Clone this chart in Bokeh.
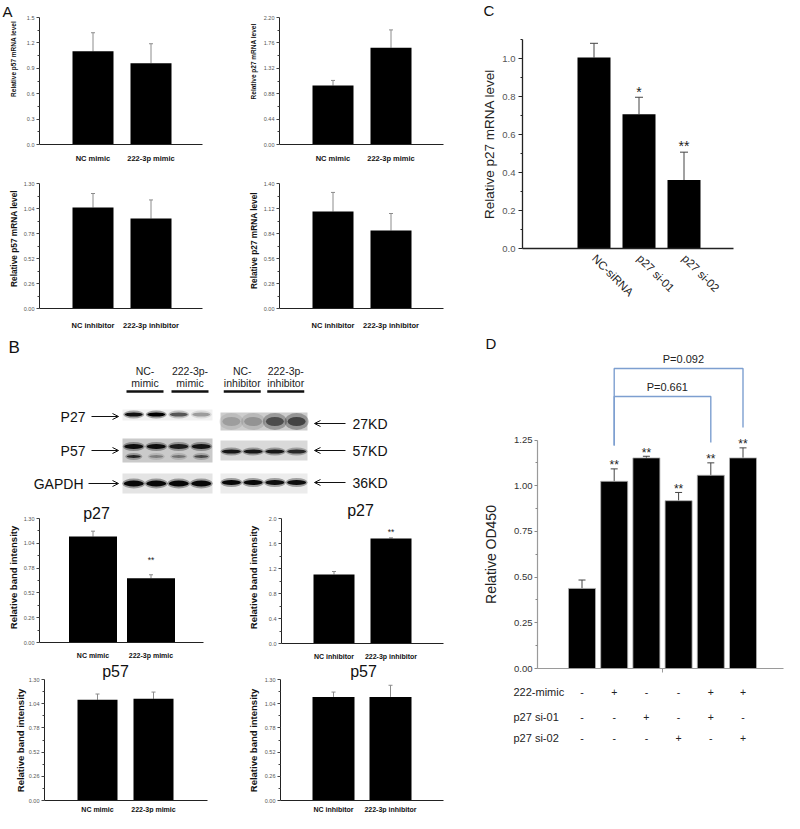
import math
from bokeh.plotting import figure
from bokeh.models import (Range1d, FixedTicker, NumeralTickFormatter, Whisker,
                          TeeHead, ColumnDataSource, Arrow, OpenHead)
from bokeh.layouts import row, column
from bokeh.core.properties import value
from bokeh.embed import file_html
from bokeh.resources import INLINE

FONT = "Liberation Sans"

# ---------------- data ----------------
A_mimic_cats = ["NC mimic", "222-3p mimic"]
A_inhib_cats = ["NC inhibitor", "222-3p inhibitor"]

A1_vals = [1.10, 0.96]
A1_errs = [0.22, 0.23]
A1_ticks = [0.0, 0.3, 0.6, 0.9, 1.2, 1.5]

A2_vals = [1.02, 1.675]
A2_errs = [0.09, 0.31]
A2_ticks = [0.0, 0.44, 0.88, 1.32, 1.76, 2.20]

A3_vals = [1.05, 0.935]
A3_errs = [0.146, 0.194]
A3_ticks = [0.0, 0.26, 0.52, 0.78, 1.04, 1.30]

A4_vals = [1.086, 0.874]
A4_errs = [0.214, 0.19]
A4_ticks = [0.0, 0.28, 0.56, 0.84, 1.12, 1.40]

B1_vals = [1.11, 0.674]
B1_errs = [0.057, 0.036]
B2_vals = [1.104, 1.68]
B2_errs = [0.048, 0.011]
B3_vals = [1.082, 1.092]
B3_errs = [0.062, 0.073]
B4_vals = [1.113, 1.113]
B4_errs = [0.052, 0.125]
B_stars = ["", "**"]
B_ticks = [0.0, 0.26, 0.52, 0.78, 1.04, 1.30]
B2_ticks = [0.0, 0.4, 0.8, 1.2, 1.6, 2.0]

C_cats = ["NC-siRNA", "p27 si-01", "p27 si-02"]
C_vals = [1.005, 0.707, 0.36]
C_errs = [0.075, 0.089, 0.147]
C_stars = ["", "*", "**"]
C_ticks = [0.0, 0.2, 0.4, 0.6, 0.8, 1.0]
C_minor = [0.1, 0.3, 0.5, 0.7, 0.9, 1.1]

D_vals = [0.438, 1.024, 1.152, 0.918, 1.057, 1.152]
D_errs = [0.046, 0.068, 0.009, 0.045, 0.068, 0.055]
D_stars = ["", "**", "**", "**", "**", "**"]
D_ticks = [0.0, 0.25, 0.5, 0.75, 1.0, 1.25]
D_minor = [0.125, 0.375, 0.625, 0.875, 1.125]
D_rows = ["222-mimic", "p27 si-01", "p27 si-02"]
D_signs = [["-", "+", "-", "-", "+", "+"],
           ["-", "-", "+", "-", "+", "-"],
           ["-", "-", "-", "+", "-", "+"]]
D_pvals = ["P=0.661", "P=0.092"]
D_pairs = [(2, 5), (2, 6)]
D_bracket_y = [1.488, 1.641]
D_bracket_left_end = 1.22
D_bracket_right_end = [1.236, 1.318]

blot_lanes_top = ["NC-", "222-3p-", "NC-", "222-3p-"]
blot_lanes_bot = ["mimic", "mimic", "inhibitor", "inhibitor"]
blot_rows = ["P27", "P57", "GAPDH"]
blot_sizes = ["27KD", "57KD", "36KD"]
p27_left = [0.9, 1.0, 0.55, 0.28]
p27_right = [0.16, 0.2, 0.5, 0.55]
p57_left = [0.9, 0.9, 0.8, 0.85]
p57_left_low = [0.75, 0.3, 0.35, 0.55]
p57_right = [0.85, 0.85, 0.85, 0.75]
gapdh_left = [0.95, 0.95, 0.95, 0.95]
gapdh_right = [0.95, 0.95, 0.92, 0.92]


# ---------------- helpers ----------------
def lin(p, p0, v0, p1, v1):
    return v0 + (p - p0) * (v1 - v0) / (p1 - p0)


def make_fig(tile, xa, ya):
    x0, y0, x1, y1 = tile

    def fx(px):
        return lin(px, xa[0][0], xa[0][1], xa[1][0], xa[1][1])

    def fy(py):
        return lin(py, ya[0][0], ya[0][1], ya[1][0], ya[1][1])

    p = figure(width=x1 - x0, height=y1 - y0,
               x_range=Range1d(fx(x0), fx(x1)), y_range=Range1d(fy(y1), fy(y0)),
               output_backend="svg", toolbar_location=None, min_border=0, title=None)
    p.outline_line_color = None
    p.grid.visible = False
    p.background_fill_color = "white"
    p.border_fill_color = "white"
    return p, fx, fy


def txt(p, xs, ys, ss, size, align="center", baseline="middle", style="normal",
        color="#111111", angle=0.0):
    p.text(x=xs, y=ys, text=ss, text_font=value(FONT), text_font_size=value(size),
           text_font_style=value(style), text_color=color, text_align=align,
           text_baseline=baseline, angle=angle)


def small_panel(tile, xc, y0px, ytpx, ticks, fmt, cats, vals, errs, bar_px,
                yaxis_px, xend_px, ylabel, ylab_xy, ylab_size, xlab_size, xlab_standoff,
                title=None, title_xy=None, stars=None, star_py=None,
                letter=None, letter_xy=None):
    p, fx, fy = make_fig(tile, ((xc[0], 1.0), (xc[1], 2.0)), ((y0px, 0.0), (ytpx, ticks[-1])))
    src = ColumnDataSource(dict(x=[1, 2], top=vals,
                                hi=[v + e for v, e in zip(vals, errs)]))
    p.vbar(x="x", top="top", bottom=0, width=bar_px / (xc[1] - xc[0]), source=src,
           fill_color="black", line_color=None)
    p.add_layout(Whisker(source=src, base="x", lower="top", upper="hi",
                         line_color="#8c8c8c", line_width=1,
                         upper_head=TeeHead(size=4, line_color="#8c8c8c", line_width=1),
                         lower_head=None))
    minor = [(a + b) / 2 for a, b in zip(ticks[:-1], ticks[1:])]
    xa = p.xaxis[0]
    xa.fixed_location = 0
    xa.bounds = (fx(yaxis_px), fx(xend_px))
    xa.ticker = FixedTicker(ticks=[1, 2])
    xa.major_label_overrides = {1: cats[0], 2: cats[1]}
    xa.major_tick_line_color = None
    xa.minor_tick_line_color = None
    xa.major_tick_out = 0
    xa.major_tick_in = 0
    xa.major_label_standoff = xlab_standoff
    xa.major_label_text_font = FONT
    xa.major_label_text_font_size = xlab_size
    xa.major_label_text_font_style = "bold"
    xa.major_label_text_color = "#111111"
    xa.axis_line_color = "#222222"
    xa.axis_line_width = 1

    ya = p.yaxis[0]
    ya.fixed_location = fx(yaxis_px)
    ya.bounds = (0, ticks[-1])
    ya.ticker = FixedTicker(ticks=ticks, minor_ticks=minor)
    ya.formatter = NumeralTickFormatter(format=fmt)
    ya.major_tick_out = 3
    ya.major_tick_in = 0
    ya.minor_tick_out = 2
    ya.minor_tick_in = 0
    ya.major_tick_line_color = "#444444"
    ya.minor_tick_line_color = "#444444"
    ya.major_label_standoff = 2
    ya.major_label_text_font = FONT
    ya.major_label_text_font_size = "5.5px"
    ya.major_label_text_color = "#555555"
    ya.axis_line_color = "#222222"
    ya.axis_line_width = 1

    txt(p, [fx(ylab_xy[0])], [fy(ylab_xy[1])], [ylabel], ylab_size, style="bold",
        angle=math.pi / 2)
    if title:
        txt(p, [fx(title_xy[0])], [fy(title_xy[1])], [title], "16px", color="#111111")
    if stars:
        txt(p, [2], [fy(star_py)], [stars[1]], "8.5px", color="#222222")
    if letter:
        txt(p, [fx(letter_xy[0])], [fy(letter_xy[1])], [letter], "15px", align="left",
            color="#111111")
    return p


# ---------------- panel A ----------------
pA1 = small_panel((0, 0, 245, 164), (92.5, 150.5), 144, 17, A1_ticks, "0.0", A_mimic_cats,
                  A1_vals, A1_errs, 41, 39, 202, "Relative p57 mRNA level", (13, 58.5),
                  "6.5px", "7.5px", 9, letter="A", letter_xy=(2, 11))
pA2 = small_panel((245, 0, 480, 164), (332.5, 390.5), 144, 17, A2_ticks, "0.00", A_mimic_cats,
                  A2_vals, A2_errs, 41, 279, 443, "Relative p27 mRNA level", (253, 61),
                  "6.5px", "7.5px", 9)
pA3 = small_panel((0, 164, 245, 332), (92.5, 150.5), 308, 183, A3_ticks, "0.00", A_inhib_cats,
                  A3_vals, A3_errs, 41, 39, 202, "Relative p57 mRNA level", (13, 238),
                  "8.3px", "7.5px", 12)
pA4 = small_panel((245, 164, 480, 332), (332.5, 390.5), 308, 183, A4_ticks, "0.00", A_inhib_cats,
                  A4_vals, A4_errs, 41, 279, 443, "Relative p27 mRNA level", (253, 240),
                  "8.3px", "7.5px", 12)

# ---------------- panel B (blot) ----------------
pB = figure(width=480, height=168, x_range=Range1d(0, 480), y_range=Range1d(500, 332),
            output_backend="svg", toolbar_location=None, min_border=0, title=None)
pB.outline_line_color = None
pB.grid.visible = False
pB.axis.visible = False

left_x0, left_x1 = 122, 212
right_x0, right_x1 = 220, 307
lanes_l = [left_x0 + (i + 0.5) * (left_x1 - left_x0) / 4 for i in range(4)]
lanes_r = [right_x0 + (i + 0.5) * (right_x1 - right_x0) / 4 for i in range(4)]
groups = [(lanes_l[0] + lanes_l[1]) / 2, (lanes_l[2] + lanes_l[3]) / 2,
          (lanes_r[0] + lanes_r[1]) / 2, (lanes_r[2] + lanes_r[3]) / 2]

txt(pB, [8], [347], ["B"], "17px", align="left")
txt(pB, groups, [370] * 4, blot_lanes_top, "10.5px", color="#222222")
txt(pB, groups, [382] * 4, blot_lanes_bot, "10.5px", color="#222222")
pB.segment(x0=[g - 18.5 for g in groups], x1=[g + 18.5 for g in groups],
           y0=[391] * 4, y1=[391] * 4, line_width=2.5, line_color="#111111")

# blot backgrounds: (center y, height, colour) for left and right blocks
bg_rows = [((414.5, 11, "#f1f1f1"), (421, 18, "#cdcdcd")),
           ((450, 24, "#cacaca"), (450, 20, "#d9d9d9")),
           ((483, 20, "#e4e4e4"), (483, 20, "#ececec"))]
for (ly, lh, lc), (ry, rh, rc) in bg_rows:
    pB.rect(x=[(left_x0 + left_x1) / 2], y=[ly], width=left_x1 - left_x0, height=lh,
            fill_color=lc, line_color=None)
    pB.rect(x=[(right_x0 + right_x1) / 2], y=[ry], width=right_x1 - right_x0, height=rh,
            fill_color=rc, line_color=None)


def bands(xs, y, w, h, alphas, soft=0.35, grow=(3, 4)):
    pB.ellipse(x=xs, y=[y] * len(xs), width=w + grow[0], height=h + grow[1], fill_color="black",
               fill_alpha=[a * soft for a in alphas], line_color=None)
    pB.ellipse(x=xs, y=[y] * len(xs), width=w, height=h, fill_color="black",
               fill_alpha=alphas, line_color=None)


bands(lanes_l, 414, 18, 4, p27_left)
bands(lanes_r, 421, 18, 9, p27_right, soft=0.5, grow=(6, 8))
bands(lanes_l, 446, 19, 5, p57_left)
bands(lanes_l, 456, 14, 3, p57_left_low)
bands(lanes_r, 451, 19, 4, p57_right)
bands(lanes_l, 483, 20, 6, gapdh_left)
bands(lanes_r, 482, 19, 5, gapdh_right)

row_y = [416, 450, 483]
txt(pB, [85, 85, 83], row_y, blot_rows, "14px", align="right", color="#111111")
txt(pB, [352] * 3, [423, 450, 482], blot_sizes, "14px", align="left", color="#111111")
for y, xs in zip(row_y, [91, 91, 88]):
    pB.add_layout(Arrow(end=OpenHead(size=6, line_width=1, line_color="#111111"),
                        x_start=xs, y_start=y, x_end=118, y_end=y,
                        line_width=1, line_color="#111111"))
for y in [423, 450, 482]:
    pB.add_layout(Arrow(end=OpenHead(size=6, line_width=1, line_color="#111111"),
                        x_start=345, y_start=y, x_end=314, y_end=y,
                        line_width=1, line_color="#111111"))

# ---------------- panel B (bars) ----------------
pB1 = small_panel((0, 500, 245, 662), (92.5, 150.5), 642, 518, B_ticks, "0.00", A_mimic_cats,
                  B1_vals, B1_errs, 48, 39, 203, "Relative band intensity", (13, 577),
                  "9.5px", "7px", 9, title="p27", title_xy=(96, 513),
                  stars=B_stars, star_py=559)
pB2 = small_panel((245, 500, 480, 662), (333.5, 390.5), 643, 518, B2_ticks, "0.0", A_inhib_cats,
                  B2_vals, B2_errs, 41, 281, 443, "Relative band intensity", (253, 577),
                  "9.5px", "7px", 9, title="p27", title_xy=(360, 510),
                  stars=B_stars, star_py=531)
pB3 = small_panel((0, 662, 245, 813), (97, 153), 800, 679, B_ticks, "0.00", A_mimic_cats,
                  B3_vals, B3_errs, 40, 44, 207, "Relative band intensity", (20, 740),
                  "9.5px", "7px", 5, title="p57", title_xy=(115, 671))
pB4 = small_panel((245, 662, 480, 813), (333, 390), 800, 679, B_ticks, "0.00", A_inhib_cats,
                  B4_vals, B4_errs, 42, 280, 443, "Relative band intensity", (253, 740),
                  "9.5px", "7px", 5, title="p57", title_xy=(363, 671))

# ---------------- panel C ----------------
pC, fxC, fyC = make_fig((480, 0, 784, 300), ((593.5, 1.0), (683.5, 3.0)), ((248, 0.0), (58, 1.0)))
srcC = ColumnDataSource(dict(x=[1, 2, 3], top=C_vals,
                             hi=[v + e for v, e in zip(C_vals, C_errs)], st=C_stars))
pC.vbar(x="x", top="top", bottom=0, width=33 / 45, source=srcC,
        fill_color="black", line_color=None)
pC.add_layout(Whisker(source=srcC, base="x", lower="top", upper="hi", line_color="#444444",
                      line_width=1, upper_head=TeeHead(size=8, line_color="#444444", line_width=1),
                      lower_head=None))
txt(pC, [1, 2, 3], [h + 0.03 for h in srcC.data["hi"]], C_stars, "14px",
    baseline="alphabetic", color="#222222")
txt(pC, [fxC(483)], [fyC(10)], ["C"], "15px", align="left")
xa = pC.xaxis[0]
xa.fixed_location = 0
xa.bounds = (fxC(522), fxC(733))
xa.ticker = FixedTicker(ticks=[1, 2, 3])
xa.major_label_overrides = {1: C_cats[0], 2: C_cats[1], 3: C_cats[2]}
xa.major_tick_line_color = None
xa.minor_tick_line_color = None
xa.major_tick_out = 0
xa.major_tick_in = 0
xa.major_label_standoff = 8
xa.major_label_orientation = -math.pi / 4
xa.major_label_text_font = FONT
xa.major_label_text_font_size = "11.5px"
xa.major_label_text_color = "#222222"
xa.axis_line_color = "#222222"
xa.axis_line_width = 1.3
ya = pC.yaxis[0]
ya.fixed_location = fxC(522)
ya.bounds = (0, 1.1)
ya.ticker = FixedTicker(ticks=C_ticks, minor_ticks=C_minor)
ya.formatter = NumeralTickFormatter(format="0.0")
ya.major_tick_out = 4
ya.major_tick_in = 0
ya.minor_tick_out = 2
ya.minor_tick_in = 0
ya.major_tick_line_color = "#222222"
ya.minor_tick_line_color = "#222222"
ya.major_label_standoff = 3
ya.major_label_text_font = FONT
ya.major_label_text_font_size = "9.5px"
ya.major_label_text_color = "#555555"
ya.axis_line_color = "#222222"
ya.axis_line_width = 1.3
ya.axis_label = "Relative p27 mRNA level"
ya.axis_label_text_font = FONT
ya.axis_label_text_font_size = "13.5px"
ya.axis_label_text_font_style = "normal"
ya.axis_label_text_color = "#222222"
ya.axis_label_standoff = 2

# ---------------- panel D ----------------
pD, fxD, fyD = make_fig((480, 300, 784, 813), ((581.5, 1.0), (742.5, 6.0)), ((668, 0.0), (439.5, 1.25)))
D_x = [1, 2, 3, 4, 5, 6]
srcD = ColumnDataSource(dict(x=D_x, top=D_vals,
                             hi=[v + e for v, e in zip(D_vals, D_errs)]))
pD.vbar(x="x", top="top", bottom=0, width=27 / 32.2, source=srcD,
        fill_color="black", line_color="#b0b0b0", line_width=0.8)
pD.add_layout(Whisker(source=srcD, base="x", lower="top", upper="hi", line_color="#444444",
                      line_width=1, upper_head=TeeHead(size=7, line_color="#444444", line_width=1),
                      lower_head=None))
txt(pD, D_x, [h + 0.02 for h in srcD.data["hi"]], D_stars, "12px",
    baseline="alphabetic", color="#222222")
txt(pD, [fxD(485)], [fyD(343)], ["D"], "15px", align="left")

# significance brackets
BLUE = "#7d9fd0"
for (a, b), by, rend, lab in zip(D_pairs, D_bracket_y, D_bracket_right_end, D_pvals):
    pD.line(x=[a, a, b, b], y=[D_bracket_left_end, by, by, rend], line_color=BLUE,
            line_width=1.4)
    txt(pD, [(a + b) / 2 + 0.15], [by + 0.05], [lab], "11px", color="#222222")

# condition table below the axis
D_row_px = [691, 716, 737]
for rlab, signs, rpx in zip(D_rows, D_signs, D_row_px):
    txt(pD, [fxD(513)], [fyD(rpx)], [rlab], "11px", align="left", color="#222222")
    txt(pD, D_x, [fyD(rpx)] * 6, signs, "10.5px", color="#222222")

xa = pD.xaxis[0]
xa.fixed_location = 0
xa.bounds = (fxD(537), fxD(783))
xa.ticker = FixedTicker(ticks=[3.5])
xa.major_tick_out = 4
xa.major_tick_in = 0
xa.major_tick_line_color = "#9a9a9a"
xa.minor_tick_line_color = None
xa.major_label_text_alpha = 0
xa.axis_line_color = "#9a9a9a"
xa.axis_line_width = 1.2
ya = pD.yaxis[0]
ya.fixed_location = fxD(537)
ya.bounds = (0, 1.25)
ya.ticker = FixedTicker(ticks=D_ticks, minor_ticks=D_minor)
ya.formatter = NumeralTickFormatter(format="0.00")
ya.major_tick_out = 3
ya.major_tick_in = 0
ya.minor_tick_out = 2
ya.minor_tick_in = 0
ya.major_tick_line_color = "#8a8a8a"
ya.minor_tick_line_color = "#8a8a8a"
ya.major_label_standoff = 2
ya.major_label_text_font = FONT
ya.major_label_text_font_size = "9.5px"
ya.major_label_text_color = "#333333"
ya.axis_line_color = "#9a9a9a"
ya.axis_line_width = 1.2
ya.axis_label = "Relative OD450"
ya.axis_label_text_font = FONT
ya.axis_label_text_font_size = "14px"
ya.axis_label_text_font_style = "normal"
ya.axis_label_text_color = "#222222"
ya.axis_label_standoff = 12

# ---------------- layout ----------------
left = column(row(pA1, pA2), row(pA3, pA4), pB, row(pB1, pB2), row(pB3, pB4))
right = column(pC, pD)
layout = row(left, right)

open("out.html", "w").write(file_html(layout, INLINE))
